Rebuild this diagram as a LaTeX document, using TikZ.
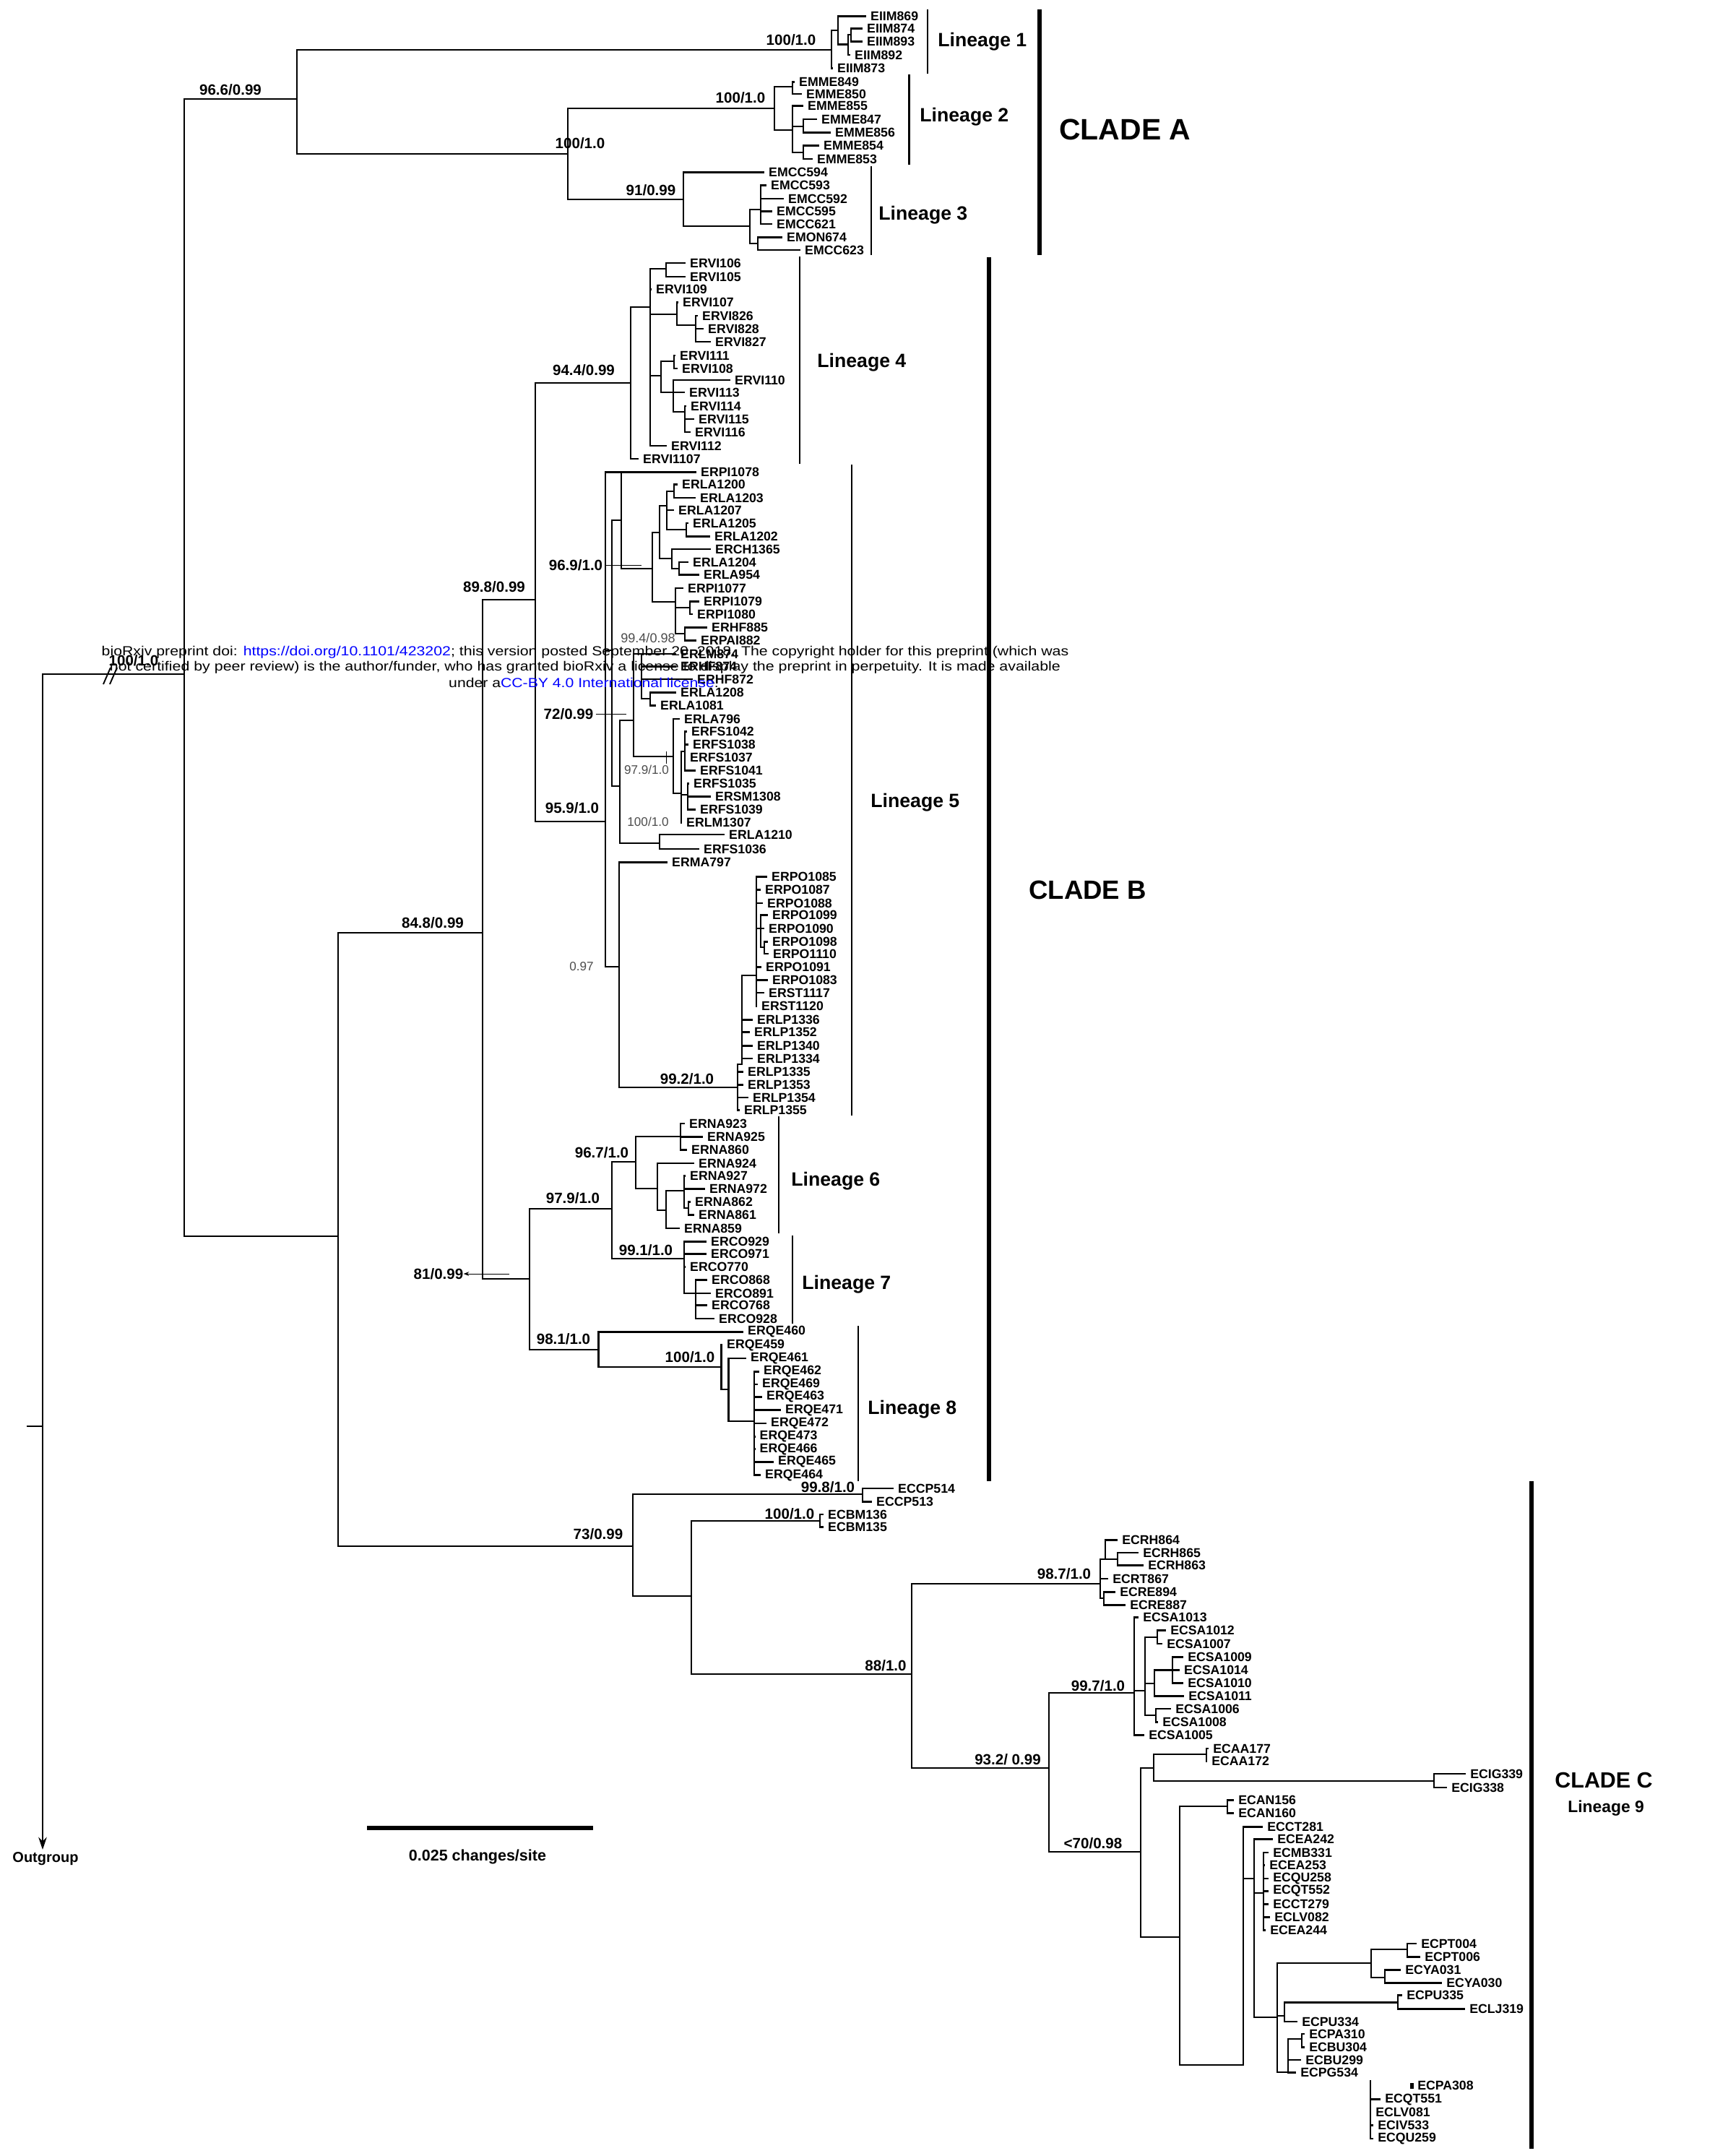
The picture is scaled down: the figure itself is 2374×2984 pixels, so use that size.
\documentclass[tikz,border=0pt]{standalone}
\usepackage{fontspec}
\usepackage{graphicx}
\setmainfont{Liberation Sans}
\usetikzlibrary{arrows.meta}
\newcommand{\tipn}[3]{\coordinate (#1) at (#2,#3); \node[tiplab] (#1-l) at (#1) {#1};}
\newcommand{\nd}[3]{\coordinate (#1) at (#2,#3);}
\newcommand{\kids}[2]{\foreach \kid in {#2}{\draw[br] (#1) |- (\kid);}}
\begin{document}
\begin{tikzpicture}[x=0.52527pt, y=-0.52527pt,
  br/.style={line width=1.5pt, line cap=rect},
  tiplab/.style={anchor=west, inner sep=0pt, xshift=3.6pt, font=\bfseries\fontsize{9.3}{9.3}\selectfont},
  suplab/.style={inner sep=0pt, font=\bfseries\fontsize{10.8}{10.8}\selectfont},
  ssuplab/.style={inner sep=0pt, text=black!70, font=\fontsize{9}{9}\selectfont},
  linlab/.style={anchor=base west, inner sep=0pt, font=\bfseries\fontsize{14}{14}\selectfont},
  cladelab/.style={anchor=west, inner sep=0pt, font=\bfseries\fontsize{21.5}{21.5}\selectfont},
  lbr/.style={line width=1.2pt},
  cbr/.style={line width=3.5pt},
  wm/.style={inner sep=0pt, font=\fontsize{9.6}{9.6}\selectfont},
  lead/.style={line width=0.5pt}]
\useasboundingbox (0,0) rectangle (2374,2984);

% ---------------- internal nodes
\nd{ogtop}{59}{933}\nd{ogend}{59}{2560}\nd{rstub}{38}{1974}\nd{rootj}{59}{1974}
\nd{I0}{255}{933}\nd{CA}{411}{137}
\nd{L1}{1151}{69}\nd{A1}{1160}{42}\nd{A2}{1174}{61.7}\nd{A3}{1178}{48}
\nd{CA2}{786}{213}
\nd{L2}{1072}{150}\nd{B1}{1097}{120}\nd{B2}{1097}{180}\nd{B3}{1112}{175}\nd{B4}{1112}{211}
\nd{L3}{946}{276}\nd{C1}{1038}{313}\nd{C2}{1053}{290}\nd{C3}{1049}{337}
\nd{BC}{468}{1711}\nd{CB}{668}{1291}\nd{E1}{741}{830}
\nd{L4}{873}{530}\nd{H1}{900}{425}\nd{H2}{922}{372}\nd{H3}{937}{435}\nd{H4}{963}{450}
\nd{H6}{915}{520}\nd{H7}{933}{500}\nd{H8}{932}{543}\nd{H9}{948}{570}
\nd{L5}{838}{1137}\nd{G1}{847}{900}\nd{D1}{860}{720}\nd{D1top}{860}{653.3}\nd{D2}{903}{787}\nd{D3}{913}{737}
\nd{D4}{923}{700}\nd{D5}{933}{680}\nd{D6}{950}{733}\nd{D7}{930}{773}\nd{D8}{940}{787}
\nd{D9}{935}{833}\nd{D10}{955}{841}\nd{D11}{948}{877}
\nd{G2}{858}{1088}\nd{G3}{877}{997}\nd{G5}{888}{905}\nd{G5b}{900}{967}
\nd{G6}{932}{1047}\nd{G7}{943}{1098}\nd{G8}{948}{1040}\nd{G9}{952}{1100}\nd{G4}{913}{1167}
\nd{F1}{857}{1338}\nd{P0}{1021}{1505}\nd{P1}{1027}{1473}\nd{P2}{1047}{1350}\nd{P3}{1053}{1285}\nd{P4}{1058}{1311}
\nd{K0}{733}{1770}\nd{K1}{847}{1673}
\nd{L6}{880}{1608}\nd{Q1}{942}{1573}\nd{Q2}{910}{1645}\nd{Q3}{922}{1675}\nd{Q4}{947}{1648}\nd{Q5}{953}{1672}
\nd{L7}{947}{1742}\nd{L7b}{963}{1790}
\nd{L8}{828.5}{1868}\nd{M1}{998.5}{1892}\nd{M2}{1008.4}{1923}\nd{M3}{1044}{1967}
\nd{N0}{876}{2140}\nd{ECCP}{1194}{2068}\nd{N1}{957}{2209}\nd{ECBM}{1135}{2105}
\nd{N2}{1262}{2317}\nd{R1}{1523}{2192}\nd{R2}{1530}{2158}\nd{R4}{1547}{2158}\nd{R3}{1528}{2212}
\nd{N3}{1452}{2447}\nd{SA0}{1570}{2343}\nd{SA1}{1585}{2340}\nd{SA2}{1602}{2266}\nd{SA3}{1598}{2330}
\nd{SA4}{1623}{2311.7}\nd{SA5}{1600}{2374}
\nd{N4}{1579}{2563}\nd{N5}{1597}{2447}\nd{ECAA}{1670}{2428}\nd{ECIG}{1985}{2465}
\nd{N6}{1633}{2681}\nd{ECAN}{1699}{2500}\nd{N7}{1721}{2858}\nd{T1}{1736}{2600}\nd{T2}{1749}{2620}
\nd{N8}{1768}{2792}\nd{U1}{1898}{2717}\nd{U2}{1948}{2698}\nd{U2b}{1917}{2737}\nd{U3}{1778}{2790}
\nd{U4}{1935}{2771.7}\nd{T9}{1783}{2868}\nd{T10}{1802}{2822}
\nd{V0}{1897}{2880}

% ---------------- tips: clade A
\tipn{EIIM869}{1198}{22.7}\tipn{EIIM874}{1193}{39.3}\tipn{EIIM893}{1193}{57.3}
\tipn{EIIM892}{1176}{76}\tipn{EIIM873}{1152}{94.3}
\tipn{EMME849}{1099}{113.3}\tipn{EMME850}{1109}{130}\tipn{EMME855}{1111}{146.7}
\tipn{EMME847}{1130}{165}\tipn{EMME856}{1149}{183.3}\tipn{EMME854}{1133}{201.7}\tipn{EMME853}{1124}{220}
\tipn{EMCC594}{1057}{238.3}\tipn{EMCC593}{1060}{256.7}\tipn{EMCC592}{1084}{275}
\tipn{EMCC595}{1068}{292.7}\tipn{EMCC621}{1068}{310}\tipn{EMON674}{1082}{328.3}\tipn{EMCC623}{1107}{346}
% lineage 4
\tipn{ERVI106}{948}{364}\tipn{ERVI105}{948}{383}\tipn{ERVI109}{901}{400.7}\tipn{ERVI107}{938}{418.3}
\tipn{ERVI826}{965}{437}\tipn{ERVI828}{973}{455}\tipn{ERVI827}{983}{473}\tipn{ERVI111}{934}{492}
\tipn{ERVI108}{937}{510}\tipn{ERVI110}{1010}{526}\tipn{ERVI113}{947}{543}\tipn{ERVI114}{949}{562}
\tipn{ERVI115}{960}{580}\tipn{ERVI116}{955}{598}\tipn{ERVI112}{922}{617}\tipn{ERVI1107}{883}{635}
% lineage 5
\tipn{ERPI1078}{963}{653.3}\tipn{ERLA1200}{937}{670.7}\tipn{ERLA1203}{962}{689}\tipn{ERLA1207}{932}{706}
\tipn{ERLA1205}{952}{724}\tipn{ERLA1202}{982}{742.3}\tipn{ERCH1365}{983}{760}\tipn{ERLA1204}{952}{778}
\tipn{ERLA954}{967}{795.7}\tipn{ERPI1077}{945}{814}\tipn{ERPI1079}{967}{832.3}\tipn{ERPI1080}{958}{850}
\tipn{ERHF885}{978}{868.7}\tipn{ERPAI882}{963}{886.7}\tipn{ERLM874}{935}{905}\tipn{ERHF874}{935}{922.7}
\tipn{ERHF872}{958}{940}\tipn{ERLA1208}{935}{958.3}\tipn{ERLA1081}{907}{976.7}\tipn{ERLA796}{940}{995}
\tipn{ERFS1042}{950}{1012.7}\tipn{ERFS1038}{952}{1030.7}\tipn{ERFS1037}{948}{1048.3}\tipn{ERFS1041}{962}{1066.7}
\tipn{ERFS1035}{953}{1084.3}\tipn{ERSM1308}{983}{1102.7}\tipn{ERFS1039}{962}{1120.7}\tipn{ERLM1307}{943}{1138.3}
\tipn{ERLA1210}{1002}{1155}\tipn{ERFS1036}{967}{1175}\tipn{ERMA797}{923}{1193.3}
\tipn{ERPO1085}{1061}{1213.3}\tipn{ERPO1087}{1052}{1231.7}\tipn{ERPO1088}{1055}{1250}\tipn{ERPO1099}{1062}{1266.7}
\tipn{ERPO1090}{1057}{1285}\tipn{ERPO1098}{1062}{1303.3}\tipn{ERPO1110}{1063}{1320}\tipn{ERPO1091}{1053}{1338.3}
\tipn{ERPO1083}{1062}{1356.7}\tipn{ERST1117}{1057}{1374}\tipn{ERST1120}{1047}{1392.7}
\tipn{ERLP1336}{1041}{1411.7}\tipn{ERLP1352}{1037}{1428.3}\tipn{ERLP1340}{1041}{1447.3}\tipn{ERLP1334}{1041}{1465}
\tipn{ERLP1335}{1028}{1483.3}\tipn{ERLP1353}{1028}{1501.7}\tipn{ERLP1354}{1035}{1519}\tipn{ERLP1355}{1023}{1536.7}
% lineage 6,7
\tipn{ERNA923}{947}{1555}\tipn{ERNA925}{972}{1573.3}\tipn{ERNA860}{950}{1591.7}\tipn{ERNA924}{960}{1610}
\tipn{ERNA927}{948}{1627.3}\tipn{ERNA972}{975}{1645.7}\tipn{ERNA862}{955}{1663.3}\tipn{ERNA861}{960}{1681.7}
\tipn{ERNA859}{940}{1700}
\tipn{ERCO929}{977}{1718.3}\tipn{ERCO971}{977}{1735.7}\tipn{ERCO770}{948}{1753.3}\tipn{ERCO868}{978}{1771.7}
\tipn{ERCO891}{983}{1790}\tipn{ERCO768}{978}{1806.7}\tipn{ERCO928}{988}{1825}
% lineage 8
\tipn{ERQE460}{1028}{1843.3}\tipn{ERQE459}{999}{1861.7}\tipn{ERQE461}{1032}{1880}\tipn{ERQE462}{1050}{1898.3}
\tipn{ERQE469}{1048}{1916}\tipn{ERQE463}{1054}{1933.3}\tipn{ERQE471}{1080}{1951.7}\tipn{ERQE472}{1060}{1970}
\tipn{ERQE473}{1044.5}{1988.3}\tipn{ERQE466}{1044.5}{2005.7}\tipn{ERQE465}{1070}{2023.3}\tipn{ERQE464}{1052}{2041.7}
% clade C region
\tipn{ECCP514}{1236}{2060}\tipn{ECCP513}{1206}{2078.3}\tipn{ECBM136}{1139}{2096}\tipn{ECBM135}{1139}{2113.3}
\tipn{ECRH864}{1546}{2131.7}\tipn{ECRH865}{1575}{2149}\tipn{ECRH863}{1582}{2166.7}\tipn{ECRT867}{1533}{2185}
\tipn{ECRE894}{1543}{2203.3}\tipn{ECRE887}{1557}{2221.7}
\tipn{ECSA1013}{1575}{2238.3}\tipn{ECSA1012}{1613}{2256.7}\tipn{ECSA1007}{1608}{2275}\tipn{ECSA1009}{1637}{2293.3}
\tipn{ECSA1014}{1632}{2311.7}\tipn{ECSA1010}{1637}{2329.3}\tipn{ECSA1011}{1638}{2347.3}\tipn{ECSA1006}{1620}{2365}
\tipn{ECSA1008}{1602}{2383.3}\tipn{ECSA1005}{1583}{2401.7}
\tipn{ECAA177}{1672}{2420}\tipn{ECAA172}{1670}{2437.3}\tipn{ECIG339}{2028}{2455}\tipn{ECIG338}{2002}{2474}
\tipn{ECAN156}{1707}{2491.7}\tipn{ECAN160}{1707}{2509.3}\tipn{ECCT281}{1747}{2528.3}\tipn{ECEA242}{1761}{2545.7}
\tipn{ECMB331}{1755}{2564}\tipn{ECEA253}{1750}{2581.7}\tipn{ECQU258}{1755}{2600}\tipn{ECQT552}{1755}{2617.3}
\tipn{ECCT279}{1755}{2635.7}\tipn{ECLV082}{1757}{2653.3}\tipn{ECEA244}{1751}{2671.7}
\tipn{ECPT004}{1960}{2690}\tipn{ECPT006}{1965}{2708.3}\tipn{ECYA031}{1938}{2726.7}\tipn{ECYA030}{1995}{2744.3}
\tipn{ECPU335}{1940}{2761.7}\tipn{ECLJ319}{2027}{2780.7}\tipn{ECPU334}{1795}{2798}
\tipn{ECPA310}{1805}{2815}\tipn{ECBU304}{1805}{2833.3}\tipn{ECBU299}{1800}{2851}\tipn{ECPG534}{1793}{2868.3}
\tipn{ECPA308}{1955}{2886.7}\tipn{ECQT551}{1910}{2905.7}\tipn{ECLV081}{1897}{2923.3}\tipn{ECIV533}{1900}{2941.7}
\tipn{ECQU259}{1900}{2960}

% ---------------- branches
\draw[br,-{Stealth[length=9pt,width=6pt]}] (ogtop) -- (ogend);
\draw[br] (rstub) -- (rootj);
\draw[br] (ogtop) -- (I0);
\kids{I0}{CA,BC}
\kids{CA}{L1,CA2}
\kids{L1}{A1,EIIM873}\kids{A1}{EIIM869,A2}\kids{A2}{A3,EIIM892}\kids{A3}{EIIM874,EIIM893}
\kids{CA2}{L2,L3}
\kids{L2}{B1,B2}\kids{B1}{EMME849,EMME850}\kids{B2}{EMME855,B3,B4}\kids{B3}{EMME847,EMME856}\kids{B4}{EMME854,EMME853}
\kids{L3}{EMCC594,C1}\kids{C1}{C2,C3}\kids{C2}{EMCC593,EMCC592,EMCC595,EMCC621}\kids{C3}{EMON674,EMCC623}
\kids{BC}{CB,N0}\kids{CB}{E1,K0}\kids{E1}{L4,L5}
\kids{L4}{H1,ERVI1107}\kids{H1}{H2,ERVI109,H3,H6,ERVI112}\kids{H2}{ERVI106,ERVI105}
\kids{H3}{ERVI107,H4}\kids{H4}{ERVI826,ERVI828,ERVI827}\kids{H6}{H7,H8}\kids{H7}{ERVI111,ERVI108}
\kids{H8}{ERVI110,ERVI113,H9}\kids{H9}{ERVI114,ERVI115,ERVI116}
\kids{L5}{D1top,G1,F1}\kids{G1}{D1,G2}\kids{D1}{ERPI1078,D2}\kids{D2}{D3,D9}\kids{D3}{D4,D7}
\kids{D4}{D5,ERLA1207,D6}\kids{D5}{ERLA1200,ERLA1203}\kids{D6}{ERLA1205,ERLA1202}
\kids{D7}{ERCH1365,D8}\kids{D8}{ERLA1204,ERLA954}\kids{D9}{ERPI1077,D10,D11}
\kids{D10}{ERPI1079,ERPI1080}\kids{D11}{ERHF885,ERPAI882}
\kids{G2}{G3,G4}\kids{G3}{G5,G6}\kids{G5}{ERLM874,ERHF874,ERHF872,G5b}\kids{G5b}{ERLA1208,ERLA1081}
\kids{G6}{ERLA796,G7}\kids{G7}{G8,G9,ERLM1307}\kids{G8}{ERFS1042,ERFS1038,ERFS1037,ERFS1041}
\kids{G9}{ERFS1035,ERSM1308,ERFS1039}\kids{G4}{ERLA1210,ERFS1036}
\kids{F1}{ERMA797,P0}\kids{P0}{P1,ERLP1335,ERLP1353,ERLP1354,ERLP1355}
\kids{P1}{P2,ERLP1336,ERLP1352,ERLP1340,ERLP1334}
\kids{P2}{ERPO1085,ERPO1087,ERPO1088,P3,ERPO1091,ERPO1083,ERST1117,ERST1120}
\kids{P3}{ERPO1099,ERPO1090,P4}\kids{P4}{ERPO1098,ERPO1110}
\kids{K0}{K1,L8}\kids{K1}{L6,L7}\kids{L6}{Q1,Q2}\kids{Q1}{ERNA923,ERNA925,ERNA860}
\kids{Q2}{ERNA924,Q3}\kids{Q3}{Q4,ERNA859}\kids{Q4}{ERNA927,ERNA972,Q5}\kids{Q5}{ERNA862,ERNA861}
\kids{L7}{ERCO929,ERCO971,ERCO770,L7b}\kids{L7b}{ERCO868,ERCO891,ERCO768,ERCO928}
\kids{L8}{ERQE460,M1}\kids{M1}{ERQE459,M2}\kids{M2}{ERQE461,M3}
\kids{M3}{ERQE462,ERQE469,ERQE463,ERQE471,ERQE472,ERQE473,ERQE466,ERQE465,ERQE464}
\kids{N0}{ECCP,N1}\kids{ECCP}{ECCP514,ECCP513}\kids{N1}{ECBM,N2}\kids{ECBM}{ECBM136,ECBM135}
\kids{N2}{R1,N3}\kids{R1}{R2,ECRT867,R3}\kids{R2}{ECRH864,R4}\kids{R4}{ECRH865,ECRH863}\kids{R3}{ECRE894,ECRE887}
\kids{N3}{SA0,N4}\kids{SA0}{ECSA1013,SA1,ECSA1005}\kids{SA1}{SA2,SA3,SA5}\kids{SA2}{ECSA1012,ECSA1007}
\kids{SA3}{SA4,ECSA1011}\kids{SA4}{ECSA1009,ECSA1014,ECSA1010}\kids{SA5}{ECSA1006,ECSA1008}
\kids{N4}{N5,N6}\kids{N5}{ECAA,ECIG}\kids{ECAA}{ECAA177,ECAA172}\kids{ECIG}{ECIG339,ECIG338}
\kids{N6}{ECAN,N7}\kids{ECAN}{ECAN156,ECAN160}\kids{N7}{ECCT281,T1}\kids{T1}{ECEA242,T2,N8}
\kids{T2}{ECMB331,ECEA253,ECQU258,ECQT552,ECCT279,ECLV082,ECEA244}
\kids{N8}{U1,U3,T9}\kids{U1}{U2,U2b}\kids{U2}{ECPT004,ECPT006}\kids{U2b}{ECYA031,ECYA030}
\kids{U3}{U4,ECPU334}\kids{U4}{ECPU335,ECLJ319}\kids{T9}{T10,ECBU299,ECPG534}\kids{T10}{ECPA310,ECBU304}
\kids{V0}{ECQT551,ECIV533,ECQU259}
\fill (ECPA308) ++(-3,-4) rectangle ++(5,8);

% break marks on outgroup branch
\draw[line width=1pt] (143,947) -- (153,924) (152,947) -- (162,924);

% ---------------- support values
\node[suplab] (s0) at (185,914) {100/1.0};
\node[suplab] (s1) at (319,124) {96.6/0.99};
\node[suplab] (s2) at (1095,55) {100/1.0};
\node[suplab] (s3) at (1025,135) {100/1.0};
\node[suplab] (s4) at (803,198) {100/1.0};
\node[suplab] (s5) at (901,263) {91/0.99};
\node[suplab] (s6) at (599,1277) {84.8/0.99};
\node[suplab] (s7) at (684,812) {89.8/0.99};
\node[suplab] (s8) at (808,512) {94.4/0.99};
\node[suplab] (s9) at (797,782) {96.9/1.0};
\node[suplab] (s10) at (787,988) {72/0.99};
\node[suplab] (s11) at (792,1118) {95.9/1.0};
\node[ssuplab,font=\fontsize{9.5}{9.5}\selectfont] (s12) at (897,883) {99.4/0.98};
\node[ssuplab] (s13) at (895,1065) {97.9/1.0};
\node[ssuplab] (s14) at (897,1137) {100/1.0};
\node[ssuplab] (s15) at (805,1338) {0.97};
\node[suplab] (s16) at (951,1493) {99.2/1.0};
\node[suplab] (s17) at (833,1595) {96.7/1.0};
\node[suplab] (s18) at (793,1658) {97.9/1.0};
\node[suplab] (s19) at (894,1730) {99.1/1.0};
\node[suplab] (s20) at (607,1763) {81/0.99};
\node[suplab] (s21) at (780,1853) {98.1/1.0};
\node[suplab] (s22) at (955,1878) {100/1.0};
\node[suplab] (s23) at (1146,2058) {99.8/1.0};
\node[suplab] (s24) at (1093,2095) {100/1.0};
\node[suplab] (s25) at (828,2123) {73/0.99};
\node[suplab] (s26) at (1226,2305) {88/1.0};
\node[suplab] (s27) at (1473,2178) {98.7/1.0};
\node[suplab] (s28) at (1520,2333) {99.7/1.0};
\node[suplab] (s29) at (1395,2435) {93.2/ 0.99};
\node[suplab] (s30) at (1513,2551) {<70/0.98};
% leaders
\draw[lead] (s9.east) ++(3,0) coordinate (ld1) -- (888,782);
\draw[lead] (s10.east) ++(3,0) coordinate (ld2) -- (867,988);
\draw[lead] (922,1040) -- (922,1057);
\draw[lead,-{Stealth[length=4pt,width=3pt]}] (705,1763) -- (s20.east);

% ---------------- brackets and group labels
\draw[lbr] (1284,13) -- (1284,102);
\draw[lbr] (1258.6,103) -- (1258.6,228);
\draw[lbr] (1206,230) -- (1206,353);
\draw[lbr] (1107,355) -- (1107,642);
\draw[lbr] (1179,643) -- (1179,1544);
\draw[lbr] (1078,1545) -- (1078,1707);
\draw[lbr] (1097,1710) -- (1097,1832);
\draw[lbr] (1188,1835) -- (1188,2050);
\draw[cbr] (1439,13) -- (1439,353);
\draw[cbr] (1369,356) -- (1369,2050);
\draw[cbr] (2120,2050) -- (2120,2974);
\node[linlab] (lin1) at (1298,64.5) {Lineage 1};
\node[linlab] (lin2) at (1273,168.5) {Lineage 2};
\node[linlab] (lin3) at (1216,304.5) {Lineage 3};
\node[linlab] (lin4) at (1131,508.5) {Lineage 4};
\node[linlab] (lin5) at (1205,1117.5) {Lineage 5};
\node[linlab] (lin6) at (1095,1641.5) {Lineage 6};
\node[linlab] (lin7) at (1110,1784.5) {Lineage 7};
\node[linlab] (lin8) at (1201,1957.5) {Lineage 8};
\node[cladelab] (cla) at (1466,179) {CLADE A};
\node[cladelab,font=\bfseries\fontsize{19.2}{19.2}\selectfont] (clb) at (1424,1232) {CLADE B};
\node[anchor=west, inner sep=0pt, font=\bfseries\fontsize{16}{16}\selectfont] (clc) at (2152,2464) {CLADE C};
\node[anchor=base west, inner sep=0pt, font=\bfseries\fontsize{12}{12}\selectfont] (lin9) at (2170,2508) {Lineage 9};

% scale bar and outgroup
\nd{sb1}{508}{2530}\nd{sb2}{821}{2530}
\draw[line width=3pt] (sb1) -- (sb2);
\node[inner sep=0pt, font=\bfseries\fontsize{11.3}{11.3}\selectfont] (sbl) at (661,2570) {0.025 changes/site};
\node[inner sep=0pt, font=\bfseries\fontsize{10.5}{10.5}\selectfont] (outg) at (63,2573) {Outgroup};

% ---------------- watermark
\node[wm] (wm1) at (810,903) {\scalebox{1.165}[1]{bioRxiv preprint doi: \textcolor{blue}{https://doi.org/10.1101/423202}; this version posted September 20, 2018. The copyright holder for this preprint (which was}};
\node[wm] (wm2) at (810,924) {\scalebox{1.17}[1]{not certified by peer review) is the author/funder, who has granted bioRxiv a license to display the preprint in perpetuity. It is made available}};
\node[wm] (wm3) at (808,945) {\scalebox{1.16}[1]{under a\textcolor{blue}{CC-BY 4.0 International license}.}};
\end{tikzpicture}
\end{document}
